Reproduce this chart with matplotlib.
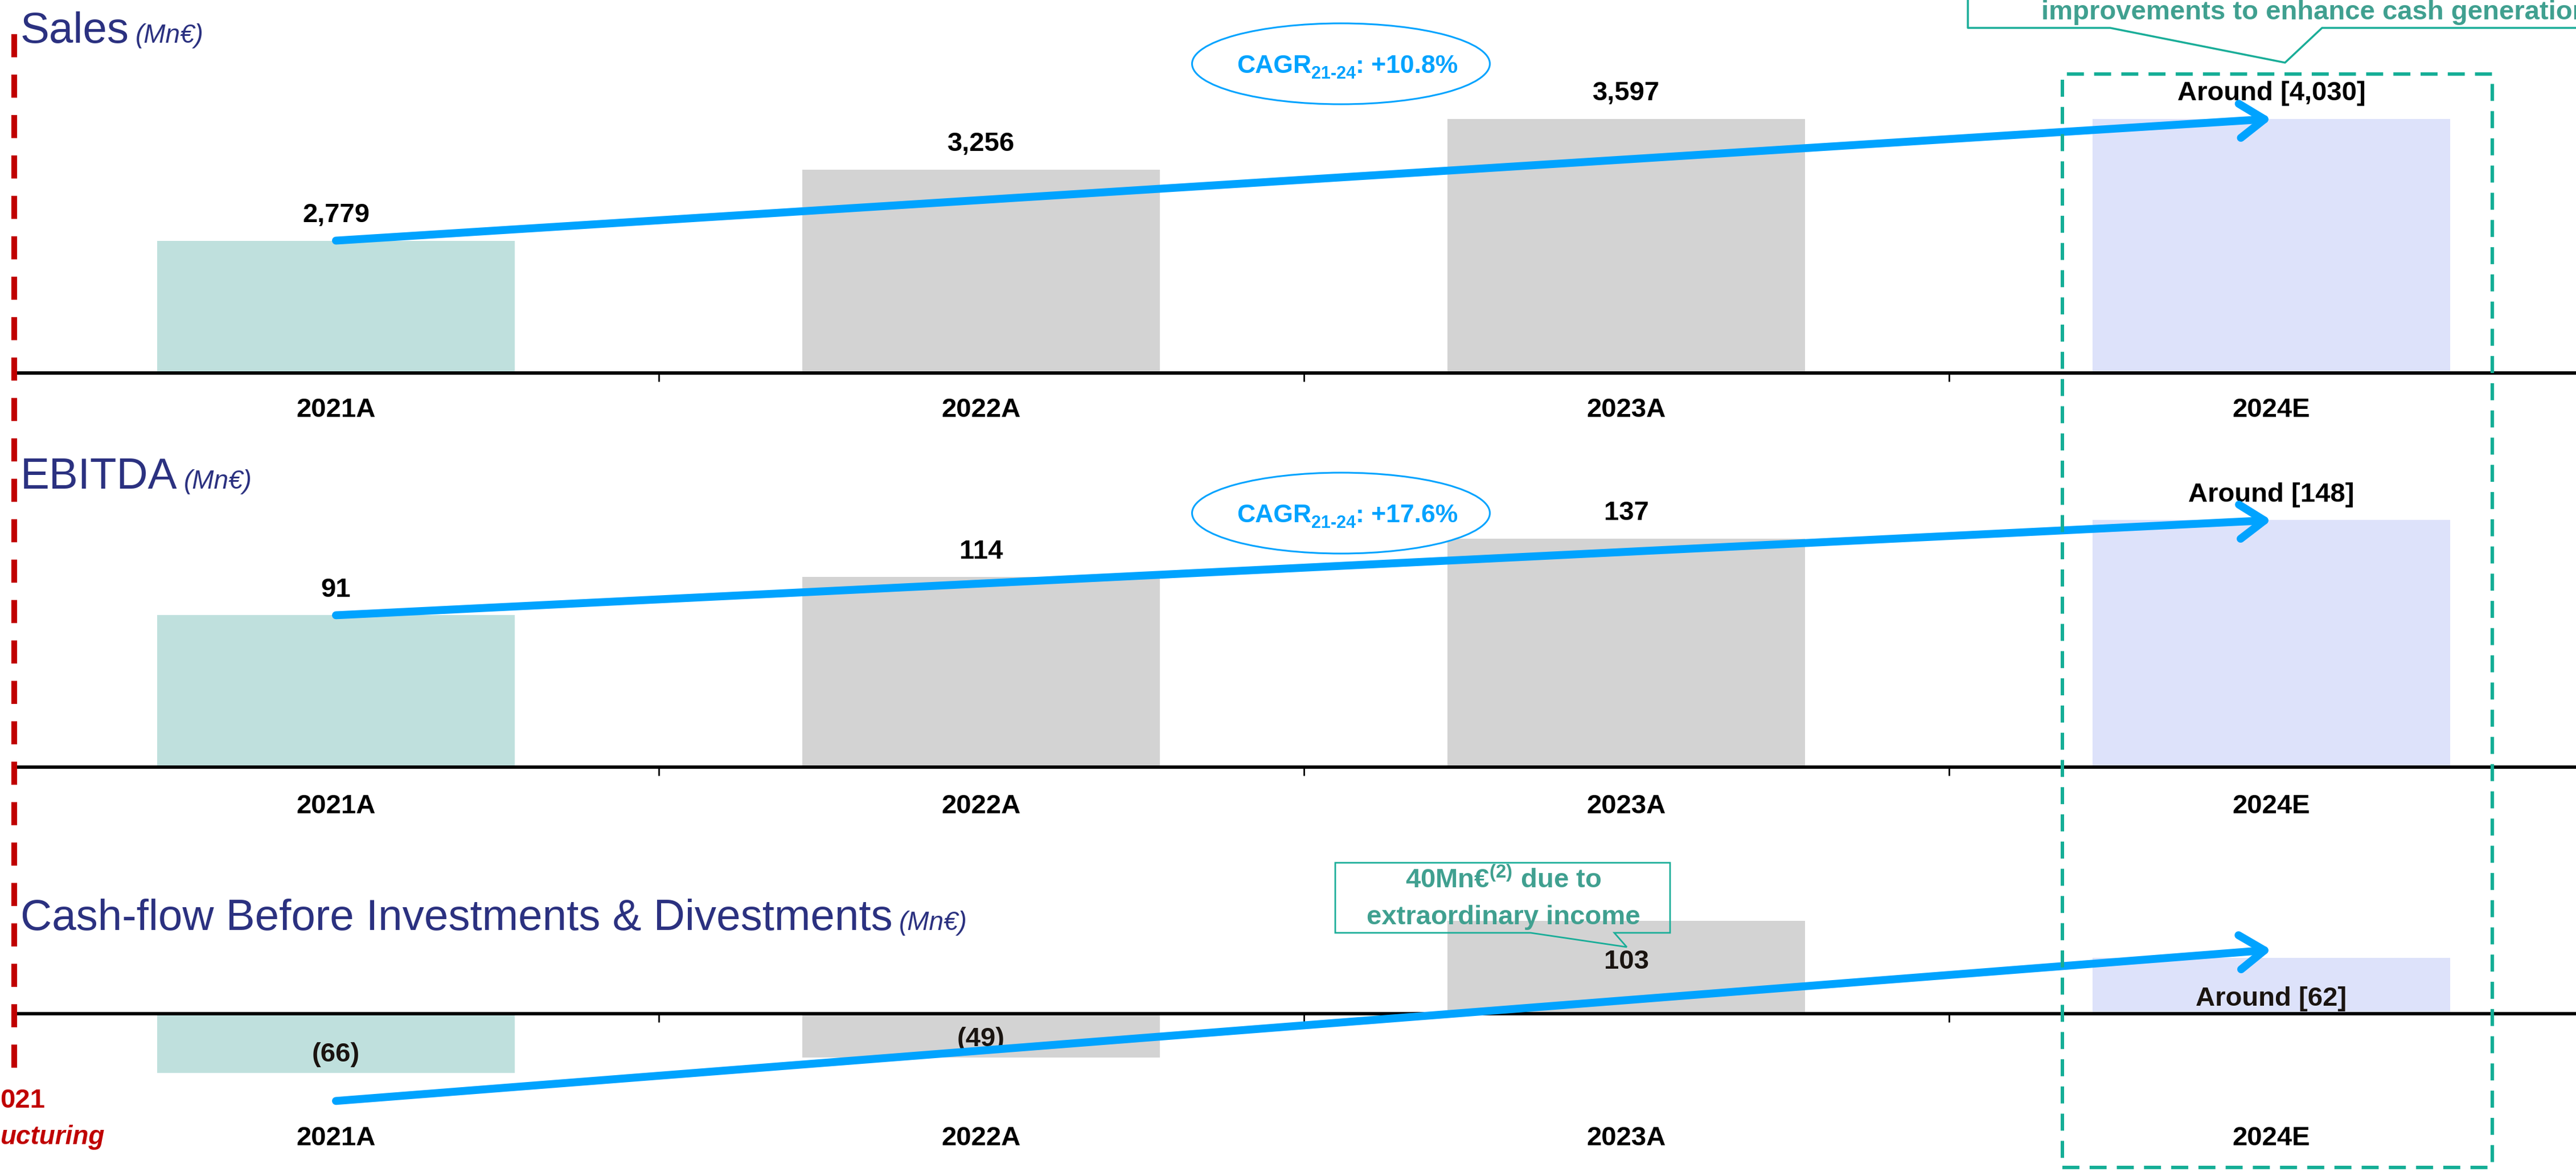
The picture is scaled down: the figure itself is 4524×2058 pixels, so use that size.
import matplotlib
matplotlib.use("Agg")
import matplotlib.pyplot as plt
from matplotlib.patches import Rectangle, Ellipse, Polygon
from matplotlib.lines import Line2D
from matplotlib.text import Annotation

plt.rcParams['font.family'] = ['Liberation Sans', 'DejaVu Sans']
plt.rcParams['mathtext.fontset'] = 'custom'
plt.rcParams['mathtext.default'] = 'regular'

# ---- data ----
years = ['2021A', '2022A', '2023A', '2024E']
sales = [2779, 3256, 3597, 4030]
sales_bar = [2779, 3256, 3597, 3597]   # 2024E bar is drawn at the 2023A height on the slide
sales_labels = ['2,779', '3,256', '3,597', 'Around [4,030]']
ebitda = [91, 114, 137, 148]
ebitda_labels = ['91', '114', '137', 'Around [148]']
cash = [-66, -49, 103, 62]
cash_labels = ['(66)', '(49)', '103', 'Around [62]']
cash_arrow = [-97, 71]
cagr_sales = ': +10.8%'
cagr_ebitda = ': +17.6%'

bar_colors = ['#BFE0DD', '#D3D3D3', '#D3D3D3', '#DDE2FA']
NAVY = '#2B3180'
BLUE = '#00A3FF'
TEAL = '#19AD98'
TEAL_TXT = '#40A090'
RED = '#C00000'
LBL = 34

W, H = 4524, 2058
fig = plt.figure(figsize=(W / 100, H / 100), dpi=100)


def fx(x):
    return x / W


def fy(y):
    return 1 - y / H


def panel(top, bottom, ymin, ymax, pad):
    ax = fig.add_axes([fx(23.5), fy(bottom), 4532 / W, (bottom - top) / H])
    ax.set_xlim(-0.5, 3.5)
    ax.set_ylim(ymin, ymax)
    for s in ['top', 'left', 'right']:
        ax.spines[s].set_visible(False)
    ax.spines['bottom'].set_linewidth(4.3)
    ax.spines['bottom'].set_zorder(3)
    ax.spines['bottom'].set_position(('data', max(ymin, 0)))
    ax.set_yticks([])
    ax.set_xticks(range(4))
    ax.set_xticklabels(years, fontsize=LBL, fontweight='bold')
    ax.tick_params(axis='x', which='major', length=0, pad=pad)
    ax.set_xticks([0.5, 1.5, 2.5], minor=True)
    ax.tick_params(axis='x', which='minor', length=11, width=2, direction='out')
    ax.patch.set_alpha(0)
    return ax


def trend(ax, y0, y1):
    ax.annotate('', xy=(3, y1), xytext=(0, y0), annotation_clip=False,
                arrowprops=dict(arrowstyle='->,head_length=2.6,head_width=1.8',
                                lw=10, color=BLUE, shrinkA=0, shrinkB=0,
                                mutation_scale=12, capstyle='round', joinstyle='round'),
                zorder=4)


def title(ax, x, y, main, unit):
    t = fig.text(fx(x), fy(y), main, fontsize=55, color=NAVY, va='baseline')
    ax.annotate(unit, xy=(1, 0), xycoords=t, xytext=(8, 4),
                textcoords='offset points', fontsize=33, style='italic',
                color=NAVY, va='bottom', ha='left', annotation_clip=False)


def cagr(cy, val):
    fig.add_artist(Ellipse((fx(2355), fy(cy)), 523 / W, 142 / H, transform=fig.transFigure,
                           facecolor='white', edgecolor=BLUE, lw=2.2, zorder=2))
    base = fy(cy + 16)
    kw = dict(fontweight='bold', color=BLUE, ha='left', va='baseline')
    t1 = fig.text(fx(2172), base, 'CAGR', fontsize=32, **kw)
    t2 = Annotation('21-24', xy=(1, fy(cy + 26)), xycoords=(t1, 'figure fraction'),
                    fontsize=22, **kw)
    fig.add_artist(t2)
    t3 = Annotation(val, xy=(1, base), xycoords=(t2, 'figure fraction'), fontsize=32, **kw)
    fig.add_artist(t3)


# ---- Sales ----
ax1 = panel(0, 655, 1890, 1890 + 655 / 0.2615, 31)
ax1.bar(range(4), sales_bar, width=0.554, color=bar_colors, zorder=1)
for i, (h, lab) in enumerate(zip(sales_bar, sales_labels)):
    ax1.annotate(lab, xy=(i, h), xytext=(0, 32), textcoords='offset points',
                 ha='center', va='center', fontsize=LBL, fontweight='bold')
trend(ax1, sales_bar[0], sales_bar[3])

# ---- EBITDA ----
ax2 = panel(700, 1347, 0, 647 / 2.93, 34)
ax2.bar(range(4), ebitda, width=0.554, color=bar_colors, zorder=1)
for i, (h, lab) in enumerate(zip(ebitda, ebitda_labels)):
    ax2.annotate(lab, xy=(i, h), xytext=(0, 32), textcoords='offset points',
                 ha='center', va='center', fontsize=LBL, fontweight='bold')
trend(ax2, ebitda[0], ebitda[3])

# ---- Cash-flow ----
ax3 = panel(1400, 2058, -278 / 1.58, 380 / 1.58, 142)
ax3.bar(range(4), cash, width=0.554, color=bar_colors, zorder=1)
for i, (v, lab) in enumerate(zip(cash, cash_labels)):
    off = 23 if v < 0 else -52
    ax3.annotate(lab, xy=(i, v), xytext=(0, off), textcoords='offset points',
                 ha='center', va='center', fontsize=LBL, fontweight='bold', color='#1A1410')
trend(ax3, cash_arrow[0], cash_arrow[1])

# ---- titles ----
title(ax1, 36, 75, 'Sales', '(Mn€)')
title(ax2, 36, 858, 'EBITDA', '(Mn€)')
title(ax3, 36, 1633, 'Cash-flow Before Investments & Divestments', '(Mn€)')

cagr(112, cagr_sales)
cagr(901, cagr_ebitda)

# ---- 2021 restructuring marker (cut at the left edge) ----
fig.add_artist(Line2D([fx(25), fx(25)], [fy(60), fy(1885)], transform=fig.transFigure,
                      color=RED, lw=7.3, linestyle=(0, (4.0, 3.0)), zorder=3))
fig.text(0, fy(1933), '021', fontsize=34, fontweight='bold', color=RED, va='center', ha='left')
fig.text(0, fy(1997), 'ucturing', fontsize=33, fontweight='bold', style='italic',
         color=RED, va='center', ha='left')

# ---- 2024E highlight box and its callout ----
fig.add_artist(Rectangle((fx(3622), fy(2050)), (4377 - 3622) / W, (2050 - 130) / H,
                         transform=fig.transFigure, fill=False, edgecolor='#14AE96',
                         lw=4.3, linestyle=(0, (5, 3)), zorder=3))
top_call = [(3456, -20), (3456, 49), (3706, 49), (4013, 110), (4078, 49), (4620, 49)]
fig.add_artist(Line2D([fx(p[0]) for p in top_call], [fy(p[1]) for p in top_call],
                      transform=fig.transFigure, color=TEAL, lw=2.5, zorder=3))
fig.text(fx(3585), fy(34), 'improvements to enhance cash generation', fontsize=34,
         fontweight='bold', color=TEAL_TXT, va='baseline', ha='left')

# ---- extraordinary income callout ----
box = [(2345, 1515), (2933, 1515), (2933, 1638), (2835, 1638), (2857, 1663),
       (2688, 1638), (2345, 1638)]
fig.add_artist(Polygon([(fx(a), fy(b)) for a, b in box], closed=True,
                       transform=fig.transFigure, fill=False, edgecolor=TEAL, lw=2, zorder=3))
fig.text(fx(2640), fy(1546), '40Mn€$^{(2)}$ due to', fontsize=34, fontweight='bold',
         color=TEAL_TXT, ha='center', va='center')
fig.text(fx(2640), fy(1611), 'extraordinary income', fontsize=34, fontweight='bold',
         color=TEAL_TXT, ha='center', va='center')

fig.savefig('out.png', dpi=100)
